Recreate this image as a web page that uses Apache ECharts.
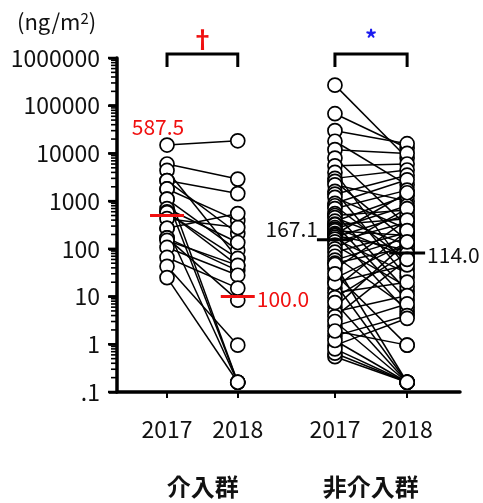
<!DOCTYPE html>
<html><head><meta charset="utf-8">
<script src="https://cdn.jsdelivr.net/npm/echarts@6/dist/echarts.min.js"></script>
<style>html,body{margin:0;padding:0;background:#fff}#c{width:483px;height:503px}</style>
</head><body><div id="c"></div>
<script>
// ---------------- data ----------------
const yearLabels = ['2017', '2018', '2017', '2018'];
const groupNames = ['介入群', '非介入群'];
const yTickLabels = ['.1', '1', '10', '100', '1000', '10000', '100000', '1000000'];
const unitLabel = '(ng/m{s|2})';
const significance = ['†', '*'];

// paired values (ng/m2), index i of 2017 pairs with index i of 2018
const intervention2017 = [15000, 6000, 4400, 2700, 2700, 1800, 1800, 1100, 1100, 700, 600, 575, 430, 270, 270, 170, 170, 150, 107, 66, 43, 25];
const intervention2018 = [18400, 2900, 63, 1440, 210, 0.16, 390, 0.16, 93, 136, 45, 63, 280, 0.16, 550, 35, 8.4, 45, 28, 15, 0.96, 0.16];

const nonIntervention2017 = [270000, 68000, 30000, 18000, 12000, 8000, 5500, 4000, 3000, 2600, 2200, 1600, 1400, 1200, 900, 800, 700, 550, 500, 450, 380, 330, 320, 280, 260, 240, 210, 200, 190, 175, 160, 140, 120, 100, 85, 70, 58, 50, 38, 24, 20, 15, 12, 9.5, 6, 4.8, 3.8, 2.4, 1.5, 0.95, 0.55, 0.65, 0.8, 1.2, 3, 7.5, 19, 47, 1.9, 30];
const nonIntervention2018 = [8000, 13000, 16000, 2200, 10000, 300, 6000, 38, 4500, 150, 1000, 25, 3500, 260, 2800, 56, 1700, 13, 650, 120, 1300, 8.5, 430, 68, 800, 190, 4.8, 1500, 95, 520, 31, 360, 16, 700, 220, 5.8, 170, 108, 400, 135, 46, 240, 20, 80, 140, 10.5, 60, 7, 4, 3.5, 0.16, 0.16, 0.16, 0.16, 0.16, 0.16, 0.16, 0.16, 0.96, 0.96];

// medians: level where the bar is drawn in the figure, and printed text
const medianLevels = [500, 10, 155, 82];
const medianLabels = ['587.5', '100.0', '167.1', '114.0'];

// ---------------- layout / style ----------------
const FONT = '"Noto Sans CJK JP", "Noto Sans", sans-serif';
const colPos = [0.7, 1.69, 3.05, 4.06];          // x positions of the four columns
const groupCenters = [1.2, 3.55];
const RED = '#f01010', BLUE = '#1c1cf0', INK = '#111';

function nearestIdx(arr, v) {
  let b = 0; for (let i = 1; i < arr.length; i++) if (Math.abs(arr[i] - v) < Math.abs(arr[b] - v)) b = i; return b;
}

const pairs = [];
intervention2017.forEach((v, i) => pairs.push([v, intervention2018[i], 0]));
nonIntervention2017.forEach((v, i) => pairs.push([v, nonIntervention2018[i], 1]));

const pointData = [];
[intervention2017, intervention2018, nonIntervention2017, nonIntervention2018].forEach((arr, k) => {
  arr.forEach(v => pointData.push([colPos[k], v]));
});

// major and minor tick positions of the log axis
const majorTickValues = [];
const minorTickValues = [];
for (let e = -1; e <= 6; e++) majorTickValues.push(+Math.pow(10, e).toPrecision(3));
for (let e = -1; e < 6; e++) for (let m = 2; m <= 9; m++) minorTickValues.push(+(m * Math.pow(10, e)).toPrecision(3));

const chart = echarts.init(document.getElementById('c'));
chart.setOption({
  animation: false,
  backgroundColor: '#fff',
  title: {
    text: unitLabel, left: 12, top: 6,
    textStyle: { fontSize: 22, fontWeight: 'normal', fontFamily: FONT, color: INK,
      rich: { s: { fontSize: 15, verticalAlign: 'top', fontFamily: FONT, color: INK } } }
  },
  grid: { left: 117, right: 23, top: 58, bottom: 111 },
  xAxis: [{
    type: 'value', min: 0, max: 4.8,
    axisLine: { show: true, onZero: false, lineStyle: { color: '#000', width: 3.5 } },
    axisTick: { show: true, customValues: colPos, length: 6, lineStyle: { color: '#000', width: 2 } },
    axisLabel: { customValues: colPos, formatter: v => yearLabels[nearestIdx(colPos, v)],
      margin: 26, fontSize: 23, fontFamily: FONT, color: INK },
    splitLine: { show: false }
  }],
  yAxis: [{
    type: 'log', logBase: 10, min: 0.1, max: 1e6,
    axisLine: { show: true, onZero: false, lineStyle: { color: '#000', width: 3.5 } },
    axisTick: { show: true, length: 8, lineStyle: { color: '#000', width: 2.5 } },
    axisLabel: { formatter: v => yTickLabels[Math.round(Math.log10(v)) + 1],
      margin: 17, fontSize: 23, fontFamily: FONT, color: INK },
    splitLine: { show: false }
  }],
  series: [
    { // paired lines
      type: 'custom', z: 2, silent: true,
      data: pairs, encode: { x: 2, y: [0, 1] },
      renderItem: (p, api) => {
        const g = api.value(2);
        const a = api.coord([colPos[2 * g], api.value(0)]);
        const b = api.coord([colPos[2 * g + 1], api.value(1)]);
        return { type: 'line', shape: { x1: a[0], y1: a[1], x2: b[0], y2: b[1] },
          style: { stroke: '#000', lineWidth: 1.5 } };
      }
    },
    { // points
      type: 'scatter', z: 4, silent: true, symbol: 'circle', symbolSize: 14,
      itemStyle: { color: '#fff', borderColor: '#000', borderWidth: 1.7, opacity: 1 },
      data: pointData
    },
    { // brackets + significance marks + group names
      type: 'custom', z: 5, clip: false, silent: true,
      data: [[0], [1]], encode: { x: 0, y: 0 },
      renderItem: (p, api) => {
        const g = api.value(0);
        const l = api.coord([colPos[2 * g], 1e6]);
        const r = api.coord([colPos[2 * g + 1], 1e6]);
        const base = api.coord([groupCenters[g], 0.1]);
        const top = l[1] - 4, bot = top + 13;
        return { type: 'group', children: [
          { type: 'polyline', shape: { points: [[l[0], bot], [l[0], top], [r[0], top], [r[0], bot]] },
            style: { stroke: '#000', lineWidth: 3, fill: null } },
          { type: 'text', style: { text: significance[g], x: (l[0] + r[0]) / 2, y: top - 15,
            textAlign: 'center', textVerticalAlign: 'middle', fill: g === 0 ? RED : BLUE,
            font: 'bold 24px ' + FONT } },
          { type: 'text', style: { text: groupNames[g], x: base[0], y: base[1] + 95,
            textAlign: 'center', textVerticalAlign: 'middle', fill: INK,
            font: 'bold 24px ' + FONT } }
        ] };
      }
    },
    { // medians
      type: 'custom', z: 6, clip: false, silent: true,
      data: medianLevels.map((v, k) => [k, v]), encode: { x: 0, y: 1 },
      renderItem: (p, api) => {
        const k = api.value(0);
        const c = api.coord([colPos[k], api.value(1)]);
        const color = k < 2 ? RED : '#000';
        const half = k < 2 ? 17 : 18;
        let tx, ty, align;
        if (k === 0) {
          const t = api.coord([colPos[0], Math.max.apply(null, intervention2017)]);
          tx = c[0] - 9; ty = t[1] - 18; align = 'center';
        } else if (k === 2) {
          tx = c[0] - half + 1; ty = c[1] - 11; align = 'right';
        } else {
          tx = c[0] + half + 2; ty = c[1] + 2; align = 'left';
        }
        return { type: 'group', children: [
          { type: 'line', shape: { x1: c[0] - half, y1: c[1], x2: c[0] + half, y2: c[1] },
            style: { stroke: color, lineWidth: 3 } },
          { type: 'text', style: { text: medianLabels[k], x: tx, y: ty, textAlign: align,
            textVerticalAlign: 'middle', fill: k < 2 ? RED : INK, font: '21px ' + FONT } }
        ] };
      }
    }
  ]
});

// log-axis ticks drawn as graphic lines, positioned through the axis scale
const x0 = chart.convertToPixel({ xAxisIndex: 0 }, 0);
const tickEls = [];
majorTickValues.forEach(v => {
  const y = chart.convertToPixel({ yAxisIndex: 0 }, v);
  tickEls.push({ type: 'line', z: 100, silent: true,
    shape: { x1: x0 - 9, y1: y, x2: x0, y2: y }, style: { stroke: '#000', lineWidth: 2.5 } });
});
minorTickValues.forEach(v => {
  const y = chart.convertToPixel({ yAxisIndex: 0 }, v);
  tickEls.push({ type: 'line', z: 100, silent: true,
    shape: { x1: x0 - 6, y1: y, x2: x0, y2: y }, style: { stroke: '#000', lineWidth: 1.6 } });
});
chart.setOption({ graphic: { elements: tickEls } });
</script>
</body></html>
